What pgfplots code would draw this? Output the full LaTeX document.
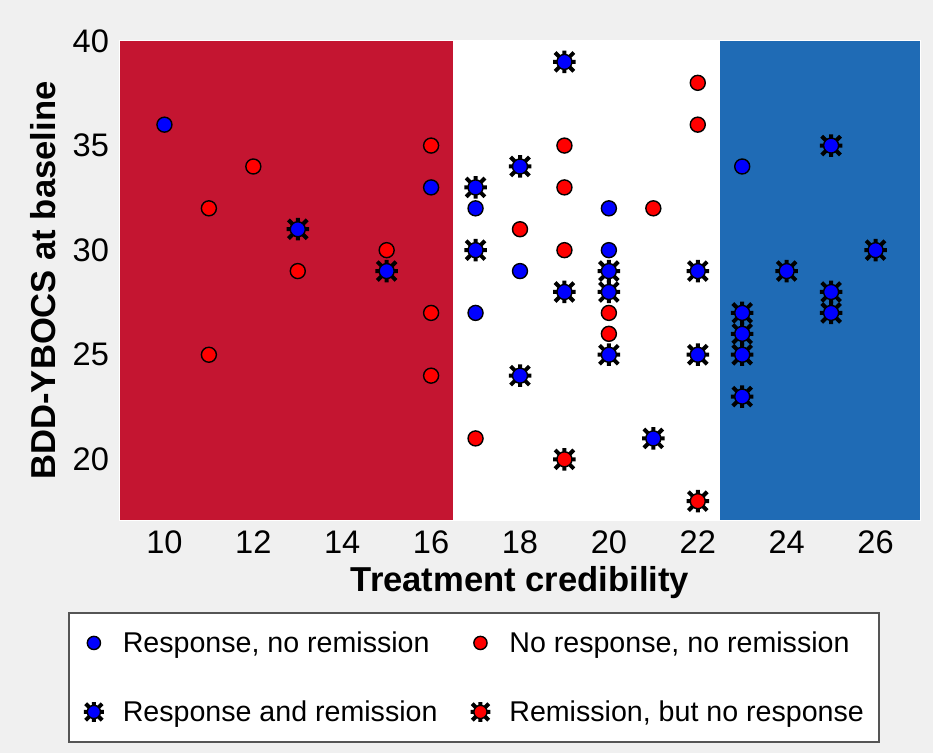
\documentclass[border=0pt]{standalone}
\usepackage{fontspec}
\setmainfont{Liberation Sans}
\usepackage{pgfplots}
\pgfplotsset{compat=1.18}
\definecolor{bgcol}{HTML}{F0F0F0}
\definecolor{regred}{HTML}{C41531}
\definecolor{regblue}{HTML}{1F6BB5}
\definecolor{mblue}{HTML}{0000FF}
\definecolor{mred}{HTML}{FF0000}
\definecolor{legframe}{HTML}{555555}

% circle with a thick black 8-armed star behind it
\pgfdeclareplotmark{remis}{%
  \pgfsetlinewidth{2pt}%
  \pgfsetstrokecolor{black}%
  \pgfpathmoveto{\pgfqpoint{-1.5\pgfplotmarksize}{0pt}}%
  \pgfpathlineto{\pgfqpoint{1.5\pgfplotmarksize}{0pt}}%
  \pgfpathmoveto{\pgfqpoint{0pt}{-1.5\pgfplotmarksize}}%
  \pgfpathlineto{\pgfqpoint{0pt}{1.5\pgfplotmarksize}}%
  \pgfpathmoveto{\pgfqpoint{-1.25\pgfplotmarksize}{-1.25\pgfplotmarksize}}%
  \pgfpathlineto{\pgfqpoint{1.25\pgfplotmarksize}{1.25\pgfplotmarksize}}%
  \pgfpathmoveto{\pgfqpoint{-1.25\pgfplotmarksize}{1.25\pgfplotmarksize}}%
  \pgfpathlineto{\pgfqpoint{1.25\pgfplotmarksize}{-1.25\pgfplotmarksize}}%
  \pgfusepathqstroke
  \pgfsetlinewidth{0.7pt}%
  \pgfpathcircle{\pgfpointorigin}{\pgfplotmarksize}%
  \pgfusepathqfillstroke
}

\begin{document}
\begin{tikzpicture}[x=1pt,y=1pt]
\fill[bgcol] (0,0) rectangle (466.5,376.5);
\begin{axis}[
  at={(60pt,116.5pt)}, anchor=south west,
  width=400pt, height=239.5pt, scale only axis,
  xmin=9, xmax=27, ymin=17.1, ymax=40,
  xtick={10,12,...,26}, ytick={20,25,...,40},
  axis background/.style={fill=white},
  axis line style={white, line width=1pt},
  major tick length=0pt,
  /pgf/number format/assume math mode=true,
  tick label style={font=\fontsize{16.3}{19}\selectfont, black},
  xticklabel style={yshift=-2pt},
  yticklabel style={xshift=-2pt},
  xlabel={Treatment credibility},
  ylabel={BDD-YBOCS at baseline},
  label style={font=\fontsize{17.3}{20}\selectfont\bfseries},
  xlabel style={at={(axis description cs:0.5,-0.1315)}, anchor=center},
  ylabel style={at={(axis description cs:-0.096,0.5)}, anchor=center},
  clip=true,
  legend columns=2,
  legend cell align=left,
  legend image code/.code={\draw[#1, mark size=3.3pt] plot coordinates {(0pt,0pt)};},
  legend style={at={(-0.065,-0.192)}, anchor=north west,
    draw=legframe, line width=1pt, fill=white,
    font=\fontsize{14.3}{17}\selectfont,
    inner xsep=7.5pt, inner ysep=8pt,
    nodes={inner sep=0pt, text height=12pt, text depth=2pt},
    row sep=20.5pt,
    /tikz/every odd column/.append style={column sep=9.5pt},
    /tikz/every even column/.append style={column sep=16.5pt}},
]
\fill[regred] (axis cs:9,17.1) rectangle (axis cs:16.5,40);
\fill[regblue] (axis cs:22.5,17.1) rectangle (axis cs:27,40);

% Response, no remission
\addplot[only marks, mark=*, mark size=3.75pt,
  mark options={fill=mblue, draw=black, line width=0.7pt}] coordinates {
  (10,36) (16,33) (17,32) (17,27) (18,29) (20,32) (20,30) (23,34)
};
\addlegendentry{Response, no remission}

% No response, no remission
\addplot[only marks, mark=*, mark size=3.75pt,
  mark options={fill=mred, draw=black, line width=0.7pt}] coordinates {
  (11,32) (11,25) (12,34) (13,29) (15,30) (16,35) (16,27) (16,24)
  (17,21) (18,31) (19,35) (19,33) (19,30) (20,27) (20,26) (21,32)
  (22,38) (22,36)
};
\addlegendentry{No response, no remission}

% Response and remission
\addplot[only marks, mark=remis, mark size=3.75pt,
  mark options={fill=mblue, draw=black}] coordinates {
  (13,31) (15,29) (17,33) (17,30) (18,34) (18,24) (19,39) (19,28)
  (20,29) (20,28) (20,25) (21,21) (22,29) (22,25) (23,27) (23,26)
  (23,25) (23,23) (24,29) (25,35) (25,28) (25,27) (26,30)
};
\addlegendentry{Response and remission}

% Remission, but no response
\addplot[only marks, mark=remis, mark size=3.75pt,
  mark options={fill=mred, draw=black}] coordinates {
  (19,20) (22,18)
};
\addlegendentry{Remission, but no response}
\end{axis}
\end{tikzpicture}
\end{document}
